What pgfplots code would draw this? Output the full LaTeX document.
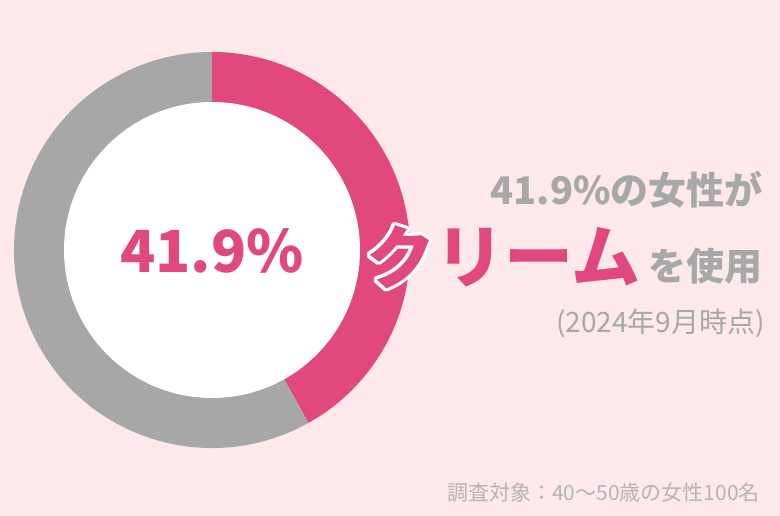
\documentclass[border=0pt]{standalone}
\usepackage{pgfplots}
\usepackage{pgfplotstable}
\pgfplotsset{compat=1.18}
\usepackage{fontspec}
\setmainfont{Noto Sans CJK JP}

\definecolor{bg}{HTML}{FDE8EA}
\definecolor{rose}{HTML}{E0487E}
\definecolor{donutgray}{HTML}{A7A7A7}
\definecolor{txtgray}{HTML}{A8A8A8}
\definecolor{notegray}{HTML}{B5B5B5}

% share of women using cream, in percent
\pgfplotstableread{
group value
use   41.9
other 58.1
}\usage

\begin{document}
\begin{tikzpicture}
\pgfplotstablegetelem{0}{value}\of\usage
\let\share\pgfplotsretval
\pgfmathsetmacro\cut{90-3.6*\share}
\fill[bg] (0,0) rectangle (780pt,516pt);
\begin{axis}[
    width=780pt, height=516pt, scale only axis,
    xmin=0, xmax=780, ymin=0, ymax=516,
    y dir=reverse,
    hide axis, clip=false,
]
% donut: pink share clockwise from 12 o'clock, grey remainder
\fill[rose] (axis cs:212,250) -- ++(90:198pt)
    arc[start angle=90, end angle=\cut, radius=198pt] -- cycle;
\fill[donutgray] (axis cs:212,250) -- ++(\cut:198pt)
    arc[start angle=\cut, end angle=-270, radius=198pt] -- cycle;
\fill[white] (axis cs:212,250) circle[radius=148pt];

\node[text=rose, font=\fontsize{58}{58}\selectfont\bfseries, inner sep=0]
    at (axis cs:212,251) {\share\%};

\node[text=txtgray, font=\fontsize{38}{38}\selectfont\bfseries, inner sep=0, anchor=east]
    at (axis cs:763,190) {41.9\%の女性が};

% outlined first letter
\pgfplotsinvokeforeach{0,22.5,...,337.5}{
  \node[text=white, font=\fontsize{69}{69}\selectfont\bfseries, inner sep=0, anchor=west]
    at ([shift={(#1:3.2pt)}]axis cs:366,257) {ク};
}
\node[text=rose, font=\fontsize{69}{69}\selectfont\bfseries, inner sep=0, anchor=west]
    (ku) at (axis cs:366,257) {ク};
\node[text=rose, font=\fontsize{69}{69}\selectfont\bfseries, inner sep=0, anchor=west]
    at (ku.east) {リーム};

\node[text=txtgray, font=\fontsize{38}{38}\selectfont\bfseries, inner sep=0, anchor=east]
    at (axis cs:763,266) {を使用};
\node[text=txtgray, font=\fontsize{28}{28}\selectfont, inner sep=0, anchor=east]
    at (axis cs:765,323) {(2024年9月時点)};
\node[text=notegray, font=\fontsize{21}{21}\selectfont, inner sep=0, anchor=east]
    at (axis cs:760,493) {調査対象：40〜50歳の女性100名};
\end{axis}
\pgfresetboundingbox
\path[use as bounding box] (0,0) rectangle (780pt,516pt);
\end{tikzpicture}
\end{document}
